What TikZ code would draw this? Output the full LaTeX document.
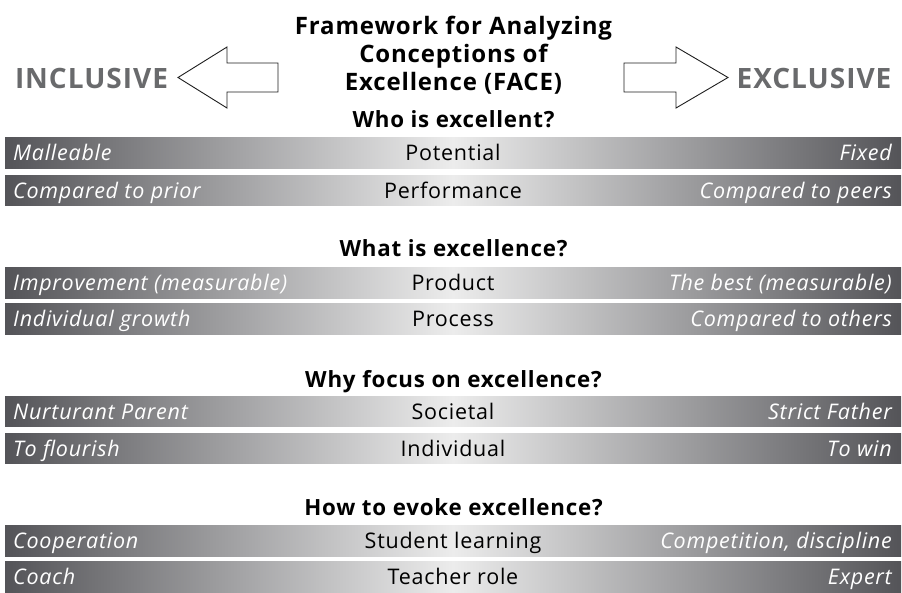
\documentclass[tikz,border=0pt]{standalone}
\usepackage{fontspec}
\setmainfont{Open Sans}
\newfontfamily\spacedfont[LetterSpace=3.5]{Open Sans}
\definecolor{bdark}{RGB}{84,84,88}
\definecolor{blight}{RGB}{236,236,236}
\definecolor{sidegray}{RGB}{105,106,108}
\definecolor{arrowline}{RGB}{30,30,30}
\pgfdeclarehorizontalshading{barshade}{100bp}{color(0bp)=(bdark); color(25bp)=(bdark); color(50bp)=(blight); color(75bp)=(bdark); color(100bp)=(bdark)}
\begin{document}
\begin{tikzpicture}[x=1pt,y=-1pt,
  bar/.style={shade, shading=barshade, draw=none, minimum width=896pt, minimum height=30.5pt, inner sep=0pt, outer sep=0pt},
  lefttxt/.style={anchor=base west, text=white, font=\spacedfont\fontsize{21.5}{25}\selectfont\itshape, inner sep=0pt},
  righttxt/.style={anchor=base east, text=white, font=\spacedfont\fontsize{21.5}{25}\selectfont\itshape, inner sep=0pt},
  midtxt/.style={anchor=base, text=black, font=\spacedfont\fontsize{21.5}{25}\selectfont, inner sep=0pt},
  header/.style={anchor=base, font=\spacedfont\fontsize{22.3}{26}\selectfont\bfseries, inner sep=0pt},
  titletxt/.style={anchor=base, font=\spacedfont\fontsize{24}{28}\selectfont\bfseries, inner sep=0pt},
  side/.style={anchor=base, text=sidegray, font=\spacedfont\fontsize{28}{32}\selectfont\bfseries, inner sep=0pt},
  bigarrow/.style={draw=arrowline, line width=0.9pt, fill=white, line join=miter}
]
\useasboundingbox (0,0) rectangle (902,592);

% title
\node[titletxt] (t1) at (453.5,34.5) {Framework for Analyzing};
\node[titletxt] (t2) at (453.5,62.5) {Conceptions of};
\node[titletxt] (t3) at (453.5,90) {Excellence (FACE)};

% side labels and arrows
\node[side] (inc) at (91.5,88.3) {INCLUSIVE};
\node[side] (exc) at (814,88.3) {EXCLUSIVE};
\draw[bigarrow] (178,77.5) -- (227,47) -- (227,63) -- (278,63) -- (278,92) -- (227,92) -- (227,108) -- cycle;
\draw[bigarrow] (624,63) -- (676,63) -- (676,47) -- (728,77.5) -- (676,108) -- (676,92) -- (624,92) -- cycle;

% section 1
\node[header] (h1) at (453.5,127.5) {Who is excellent?};
\node[bar] (b1) at (453,152.75) {};
\node[bar] (b2) at (453,190.25) {};
% section 2
\node[header] (h2) at (453.5,256) {What is excellence?};
\node[bar] (b3) at (453,282.75) {};
\node[bar] (b4) at (453,318.75) {};
% section 3
\node[header] (h3) at (453.5,387.5) {Why focus on excellence?};
\node[bar] (b5) at (453,411.5) {};
\node[bar] (b6) at (453,448.25) {};
% section 4
\node[header] (h4) at (453.5,515) {How to evoke excellence?};
\node[bar] (b7) at (453,540.75) {};
\node[bar] (b8) at (453,576.75) {};

\foreach \b/\l/\m/\r in {
  b1/Malleable/Potential/Fixed,
  b2/Compared to prior/Performance/Compared to peers,
  b3/Improvement (measurable)/Product/The best (measurable),
  b4/Individual growth/Process/Compared to others,
  b5/Nurturant Parent/Societal/Strict Father,
  b6/To flourish/Individual/To win,
  b7/Cooperation/Student learning/{Competition, discipline},
  b8/Coach/Teacher role/Expert}{
  \node[lefttxt] (\b l) at ([xshift=8pt,yshift=-8.2pt]\b.west) {\l};
  \node[midtxt] (\b m) at ([yshift=-8.2pt]\b.center) {\m};
  \node[righttxt] (\b r) at ([xshift=-9pt,yshift=-8.2pt]\b.east) {\r};
}
\end{tikzpicture}
\end{document}
